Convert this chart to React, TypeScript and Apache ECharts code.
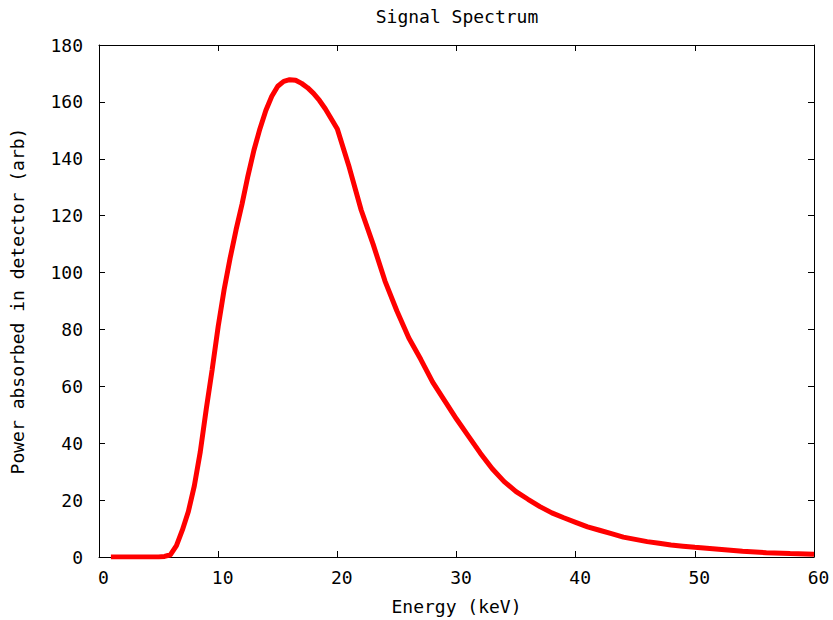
import React, { useEffect, useRef } from "react";
import * as echarts from "echarts";

const energy = [1, 2, 3, 4, 5, 5.5, 6, 6.5, 7, 7.5, 8, 8.5, 9, 9.5, 10, 10.5, 11, 11.5, 12, 12.5, 13, 13.5, 14, 14.5, 15, 15.5, 16, 16.5, 17, 17.5, 18, 18.5, 19, 19.5, 20, 21, 22, 23, 24, 25, 26, 27, 28, 29, 30, 31, 32, 33, 34, 35, 36, 37, 38, 39, 40, 41, 42, 43, 44, 45, 46, 47, 48, 49, 50, 52, 54, 56, 58, 60];
const power = [0, 0, 0, 0, 0, 0.2, 0.8, 4, 9.5, 16, 25, 37, 52, 66, 81, 94, 105, 115, 124, 134, 143, 150.5, 157, 162, 165.5, 167.2, 167.8, 167.6, 166.5, 165, 163, 160.5, 157.5, 154, 150.5, 137, 122, 110, 97, 86.5, 77, 69.5, 61.5, 55, 48.5, 42.5, 36.5, 31, 26.5, 23, 20.3, 17.7, 15.5, 13.8, 12.2, 10.6, 9.4, 8.2, 7, 6.2, 5.4, 4.8, 4.2, 3.8, 3.4, 2.7, 2, 1.5, 1.2, 1];

const FONT = "'DejaVu Sans Mono', monospace";
const FS = 18;

export default function App() {
  const ref = useRef<HTMLDivElement>(null);
  useEffect(() => {
    if (!ref.current) return;
    const chart = echarts.init(ref.current, undefined, { renderer: "svg" });
    const tick = { show: true, inside: true, length: 6, lineStyle: { color: "#000", width: 1 } };
    const line = { show: true, onZero: false, lineStyle: { color: "#000", width: 1 } };
    const label = { color: "#000", fontFamily: FONT, fontSize: FS };
    chart.setOption({
      animation: false,
      backgroundColor: "#fff",
      graphic: [
        {
          type: "text",
          x: 457,
          y: 16,
          style: {
            text: "Signal Spectrum",
            fill: "#000",
            font: `${FS}px ${FONT}`,
            align: "center",
            verticalAlign: "middle",
          },
        },
      ],
      grid: { left: 99, right: 19, top: 45, bottom: 63, containLabel: false, outerBoundsMode: "none" },
      xAxis: [
        {
          type: "value",
          min: 0,
          max: 60,
          interval: 10,
          position: "bottom",
          axisLine: line,
          axisTick: tick,
          splitLine: { show: false },
          axisLabel: { ...label, margin: 11, padding: [0, 0, 0, 9] },
          name: "Energy (keV)",
          nameLocation: "middle",
          nameGap: 40,
          nameTextStyle: { ...label },
        },
        {
          type: "value",
          min: 0,
          max: 60,
          interval: 10,
          position: "top",
          axisLine: line,
          axisTick: tick,
          splitLine: { show: false },
          axisLabel: { show: false },
        },
      ],
      yAxis: [
        {
          type: "value",
          min: 0,
          max: 180,
          interval: 20,
          position: "left",
          axisLine: line,
          axisTick: tick,
          splitLine: { show: false },
          axisLabel: { ...label, margin: 16 },
          name: "Power absorbed in detector (arb)",
          nameLocation: "middle",
          nameGap: 73,
          nameRotate: 90,
          nameTextStyle: { ...label },
        },
        {
          type: "value",
          min: 0,
          max: 180,
          interval: 20,
          position: "right",
          axisLine: line,
          axisTick: tick,
          splitLine: { show: false },
          axisLabel: { show: false },
        },
      ],
      series: [
        {
          type: "line",
          xAxisIndex: 0,
          yAxisIndex: 0,
          data: energy.map((e, i) => [e, power[i]]),
          showSymbol: false,
          smooth: false,
          lineStyle: { color: "#ff0000", width: 5 },
          itemStyle: { color: "#ff0000" },
        },
      ],
    });
    return () => chart.dispose();
  }, []);
  return (
    <div
      ref={ref}
      style={{ position: "fixed", left: 0, top: 0, width: 833, height: 620 }}
    />
  );
}
